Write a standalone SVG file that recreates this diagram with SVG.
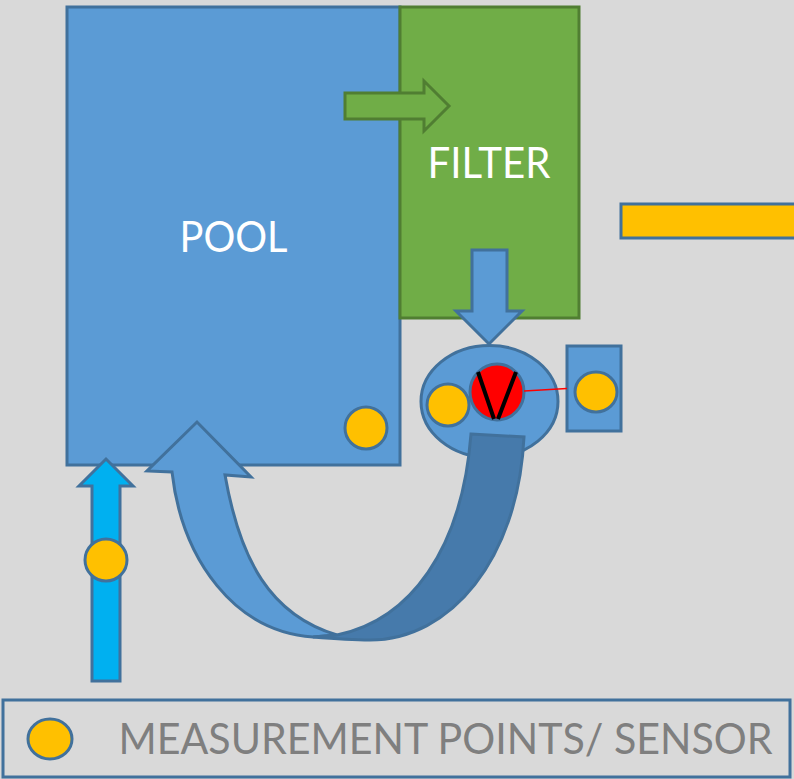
<svg xmlns="http://www.w3.org/2000/svg" width="794" height="779" viewBox="0 0 794 779">
<style>
.b{fill:#5B9BD5;stroke:#41719C;stroke-width:3}
.g{fill:#70AD47;stroke:#507E32;stroke-width:3}
.s{fill:#FFC000;stroke:#41719C;stroke-width:3}
.t{font-family:"Lato","Open Sans",sans-serif;font-size:42px}
</style>
<rect width="794" height="779" fill="#D9D9D9"/>
<g id="pool"><rect class="b" x="67" y="7" width="333" height="458"/><text class="t" x="179.500" y="252" fill="#fff" textLength="108" lengthAdjust="spacingAndGlyphs">POOL</text></g>
<g id="filter"><rect class="g" x="400" y="7" width="179" height="311"/><text class="t" x="427.500" y="178" fill="#fff" textLength="123" lengthAdjust="spacingAndGlyphs">FILTER</text></g>
<g id="pump">
<ellipse class="b" cx="489.500" cy="401.500" rx="68.500" ry="56"/>
<ellipse cx="497" cy="392" rx="27" ry="28" fill="#FF0000" stroke="#41719C" stroke-width="3"/>
<path d="M478,372L494,419M516,372L498,419" stroke="#000" stroke-width="4" fill="none"/>
<circle class="s" cx="448" cy="405" r="21"/>
</g>
<g id="sensor-box"><rect class="b" x="567" y="346" width="54" height="85"/><ellipse class="s" cx="596" cy="392" rx="21" ry="20"/></g>
<g id="pool-sensor"><circle class="s" cx="366" cy="428" r="21"/></g>
<g id="orange-bar"><rect x="621" y="204" width="176" height="34" fill="#FFC000" stroke="#41719C" stroke-width="3"/></g>
<g id="connectors">
<path class="g" d="M345,93H424V81L449,106L424,131V119H345Z"/>
<path class="b" d="M472,250H507V311H522L489,344L456,311H472Z"/>
<path d="M524,391L567,388.500" stroke="#FF0000" stroke-width="1.500" fill="none"/>
<path class="b" d="M172,472C182,560 235,632 313,637L337,635C270,615 240,560 225,475L251,477L197,422L147,471Z"/>
<path d="M471,434L524,437C518,560 450,640 370,640C350,640 325,638 313,637L337,635C410,620 462,550 471,434Z" fill="#467AAB" stroke="#41719C" stroke-width="3"/>
<path d="M92,681H120V486H133L106,459L79,486H92Z" fill="#00B0F0" stroke="#41719C" stroke-width="3"/>
</g>
<g id="inlet-sensor"><circle class="s" cx="106" cy="560" r="21"/></g>
<g id="legend"><rect x="3" y="700" width="787" height="77" fill="none" stroke="#41719C" stroke-width="3"/><ellipse class="s" cx="50" cy="739" rx="22" ry="20"/><text class="t" x="118.500" y="754" fill="#7F7F7F" textLength="654" lengthAdjust="spacingAndGlyphs">MEASUREMENT POINTS/ SENSOR</text></g>
</svg>
